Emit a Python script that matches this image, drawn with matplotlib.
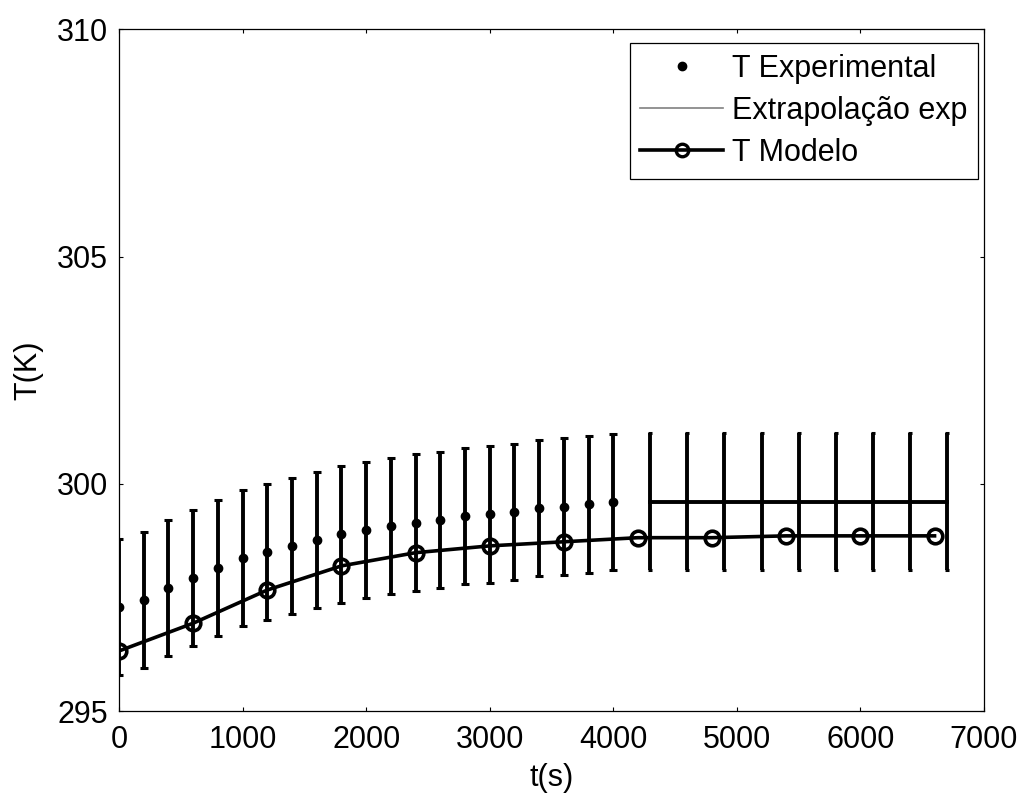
import matplotlib
matplotlib.use("Agg")
import matplotlib.pyplot as plt
from matplotlib.lines import Line2D
import numpy as np

plt.rcParams['font.family'] = ['Liberation Sans', 'DejaVu Sans']

# Experimental data (every 200 s)
t_exp = [0, 200, 400, 600, 800, 1000, 1200, 1400, 1600, 1800, 2000,
         2200, 2400, 2600, 2800, 3000, 3200, 3400, 3600, 3800, 4000]
T_exp = [297.30, 297.45, 297.71, 297.93, 298.15, 298.37, 298.50, 298.64, 298.77, 298.89, 298.99,
         299.08, 299.15, 299.21, 299.30, 299.33, 299.38, 299.47, 299.50, 299.55, 299.60]
err_exp = [1.5] * len(t_exp)

# Extrapolation of experimental data
t_ext = [4300, 4600, 4900, 5200, 5500, 5800, 6100, 6400, 6700]
T_ext = [299.61] * len(t_ext)
err_ext = [1.5] * len(t_ext)

# Model
t_mod = [0, 600, 1200, 1800, 2400, 3000, 3600, 4200, 4800, 5400, 6000, 6600]
T_mod = [296.33, 296.94, 297.67, 298.20, 298.49, 298.64, 298.73, 298.82, 298.82, 298.86, 298.86, 298.86]

xticks = [0, 1000, 2000, 3000, 4000, 5000, 6000, 7000]
yticks = [295, 300, 305, 310]

fig = plt.figure(figsize=(10.27, 7.93), dpi=100)
ax = fig.add_axes([0.1159, 0.1028, 0.8422, 0.8606])

ax.errorbar(t_exp, T_exp, yerr=err_exp, fmt='o', color='black', markersize=6,
            elinewidth=2.8, capsize=2.9, capthick=2.2, zorder=3)
ax.errorbar(t_ext, T_ext, yerr=err_ext, fmt='-', color='black', linewidth=2.8,
            elinewidth=2.8, capsize=1.6, capthick=2.2, zorder=3)
ax.plot(t_mod, T_mod, '-o', color='black', linewidth=2.6, markersize=10.5,
        markerfacecolor='none', markeredgewidth=2.6, zorder=4)

ax.set_xlim(0, 7000)
ax.set_ylim(295, 310)
ax.set_xticks(xticks)
ax.set_yticks(yticks)
ax.tick_params(direction='in', length=3, width=0.8, top=True, right=True,
               labelsize=22, pad=8)
ax.tick_params(axis='x', pad=9.5)
for s in ax.spines.values():
    s.set_linewidth(0.9)

ax.set_xlabel('t(s)', fontsize=22)
ax.set_ylabel('T(K)', fontsize=22)
ax.xaxis.set_label_coords(0.5, -0.0975)
ax.xaxis.label.set_va('center')
ax.yaxis.set_label_coords(-0.105, 0.5)
ax.yaxis.label.set_va('center')

handles = [
    Line2D([], [], linestyle='none', marker='o', color='black', markersize=6),
    Line2D([], [], linestyle='-', color='#808080', linewidth=1.2),
    Line2D([], [], linestyle='-', color='black', linewidth=2.6, marker='o',
           markersize=9, markerfacecolor='none', markeredgewidth=2.4),
]
labels = ['T Experimental', 'Extrapolação exp', 'T Modelo']
leg = ax.legend(handles, labels, loc='upper right', bbox_to_anchor=(0.9931, 0.9795),
                borderaxespad=0, fontsize=22, fancybox=False, framealpha=1,
                edgecolor='black', handlelength=2.7, handletextpad=0.3,
                labelspacing=0.4, borderpad=0.35)
leg.get_frame().set_linewidth(0.9)

fig.savefig('out.png', dpi=100)
